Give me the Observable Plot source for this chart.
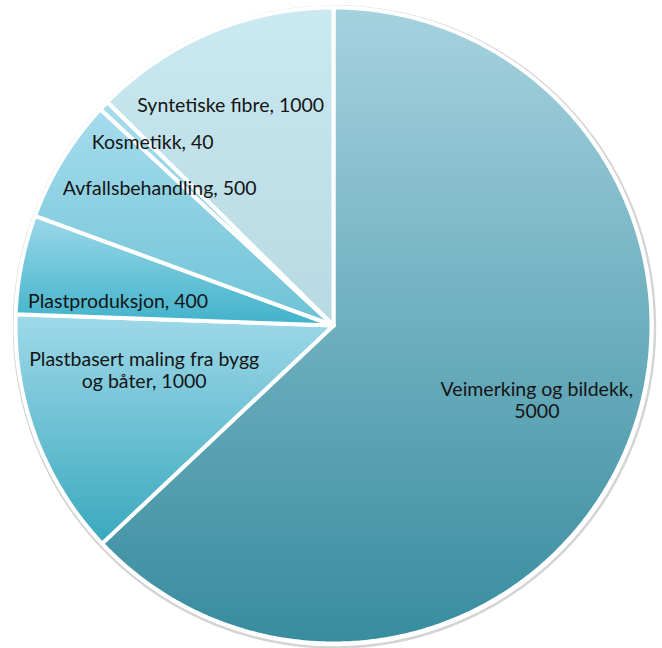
<!DOCTYPE html>
<html><head><meta charset="utf-8">
<script src="https://cdn.jsdelivr.net/npm/d3@7"></script>
<script src="https://cdn.jsdelivr.net/npm/@observablehq/plot@0.6"></script>
<style>html,body{margin:0;padding:0;background:#fff}svg{display:block}</style>
</head><body><div id="chart"></div>
<script>
// ---- data ----
const categories = ["Veimerking og bildekk", "Plastbasert maling fra bygg og båter", "Plastproduksjon", "Avfallsbehandling", "Kosmetikk", "Syntetiske fibre"];
const values = [5000, 1000, 400, 500, 40, 1000];
const labelTexts = ["Veimerking og bildekk,\n5000", "Plastbasert maling fra bygg\nog båter, 1000", "Plastproduksjon, 400", "Avfallsbehandling, 500", "Kosmetikk, 40", "Syntetiske fibre, 1000"];

// ---- styles / layout ----
const gradTop = ["#a6d2df", "#9fd9e9", "#9cd8e9", "#a6dced", "#a8dcea", "#cae9f1"];
const gradBottom = ["#378c9e", "#3aa8bd", "#40b2ca", "#6ec3d6", "#7cc8da", "#b8d9e3"];
const labelNudge = [[-1, -14], [19, -34], [3, 18], [16, -21], [-20, -30], [-17, -15]]; // px offsets from centroid
const W = 662, H = 648, CX = 333, CY = 325, R = 318;

const data = categories.map((c, i) => ({category: c, value: values[i], label: labelTexts[i], i}));
const arcs = d3.pie().sort(null).value(d => d.value)(data);

// slice polygons in unit-radius data space (y up), 0 rad at 12 o'clock, clockwise
function slicePoints(a) {
  const pts = [{x: 0, y: 0}];
  const span = a.endAngle - a.startAngle;
  const n = Math.max(2, Math.ceil(span / (Math.PI / 360)));
  for (let k = 0; k <= n; k++) {
    const t = a.startAngle + span * k / n;
    pts.push({x: Math.sin(t), y: Math.cos(t)});
  }
  return pts;
}

const labelData = arcs.map((a, i) => {
  const m = (a.startAngle + a.endAngle) / 2;
  return {
    x: 0.7 * Math.sin(m) + labelNudge[i][0] / R,
    y: 0.7 * Math.cos(m) - labelNudge[i][1] / R,
    text: a.data.label
  };
});

const sliceMarks = arcs.map((a, i) => Plot.line(slicePoints(a), {
  x: "x", y: "y", curve: "linear-closed",
  fill: `url(#g${i})`, stroke: "white", strokeWidth: 4
}));

const svg = Plot.plot({
  width: W, height: H,
  margin: 0,
  x: {domain: [-CX / R, (W - CX) / R], range: [0, W], axis: null},
  y: {domain: [-(H - CY) / R, CY / R], range: [H, 0], axis: null},
  style: {fontFamily: "Lato, 'Open Sans', sans-serif", background: "white"},
  marks: [
    Plot.dot([{x: 0, y: 0}], {x: "x", y: "y", r: R + 2.5, fill: "none", stroke: "#d4d4d4", strokeWidth: 2.5, dx: 1, dy: 1.5}),
    ...sliceMarks,
    Plot.text(labelData, {x: "x", y: "y", text: "text", fontSize: 19.5, fill: "#141414", textAnchor: "middle", lineAnchor: "middle", lineHeight: 1.13})
  ]
});

const defs = arcs.map((a, i) =>
  `<linearGradient id="g${i}" x1="0" y1="0" x2="0" y2="1"><stop offset="0" stop-color="${gradTop[i]}"/><stop offset="1" stop-color="${gradBottom[i]}"/></linearGradient>`
).join("");
svg.insertAdjacentHTML("afterbegin", `<defs>${defs}</defs>`);
document.getElementById("chart").appendChild(svg);
</script>
</body></html>
